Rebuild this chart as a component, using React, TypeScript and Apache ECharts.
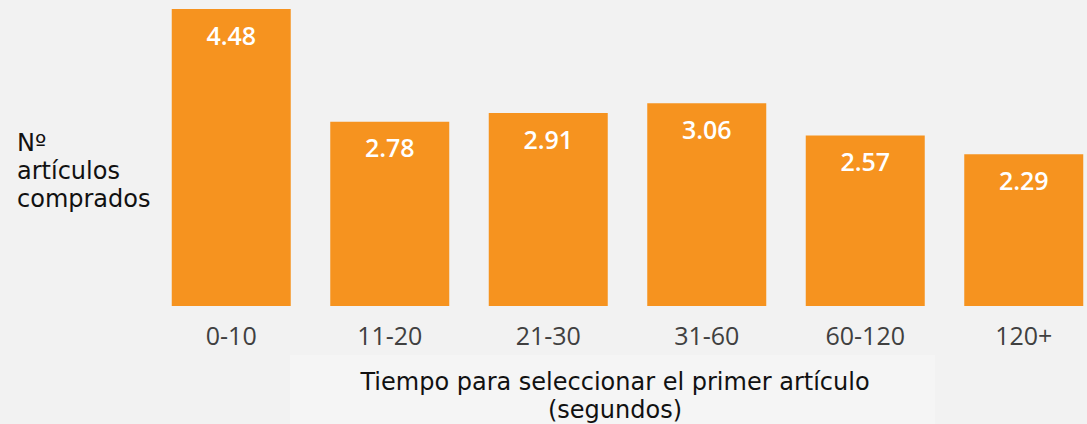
import React, { useEffect, useRef } from "react";
import * as echarts from "echarts";

const categories = ["0-10", "11-20", "21-30", "31-60", "60-120", "120+"];
const values = [4.48, 2.78, 2.91, 3.06, 2.57, 2.29];
const yTitle = "Nº\nartículos\ncomprados";
const xTitle = "Tiempo para seleccionar el primer artículo\n(segundos)";

export default function App() {
  const ref = useRef<HTMLDivElement>(null);
  useEffect(() => {
    if (!ref.current) return;
    document.body.style.margin = "0";
    const chart = echarts.init(ref.current, undefined, { renderer: "svg" });
    chart.setOption({
      animation: false,
      backgroundColor: "#f2f2f2",
      grid: { left: 152, right: 17, top: 9, bottom: 118, containLabel: false },
      xAxis: {
        type: "category",
        data: categories,
        axisLine: { show: false },
        axisTick: { show: false },
        axisLabel: {
          color: "#404040",
          fontSize: 25,
          fontFamily: "Open Sans",
          margin: 16,
        },
      },
      yAxis: {
        type: "value",
        min: 0,
        max: 4.48,
        show: false,
        splitLine: { show: false },
      },
      series: [
        {
          type: "bar",
          data: values,
          barWidth: 119,
          itemStyle: { color: "#F6931F" },
          label: {
            show: true,
            position: "insideTop",
            distance: 13,
            color: "#ffffff",
            fontSize: 25,
            fontWeight: 600,
            fontFamily: "Open Sans",
            formatter: (p: any) => p.value.toFixed(2),
          },
        },
      ],
      graphic: [
        {
          type: "rect",
          shape: { x: 290, y: 355, width: 645, height: 69 },
          style: { fill: "#f5f5f5" },
          z: -1,
        },
        {
          type: "text",
          left: 17,
          top: 129,
          style: {
            text: yTitle,
            fontSize: 24,
            lineHeight: 28,
            fontFamily: "DejaVu Sans",
            fill: "#111111",
            textAlign: "left",
          },
        },
        {
          type: "text",
          x: 615,
          y: 368,
          style: {
            text: xTitle,
            fontSize: 24,
            lineHeight: 28,
            fontFamily: "DejaVu Sans",
            fill: "#111111",
            textAlign: "center",
            textVerticalAlign: "top",
          },
        },
      ],
    });
    return () => chart.dispose();
  }, []);
  return (
    <div style={{ width: 1087, height: 424, overflow: "hidden", background: "#f2f2f2" }}>
      <div ref={ref} style={{ width: 1120, height: 424 }} />
    </div>
  );
}
